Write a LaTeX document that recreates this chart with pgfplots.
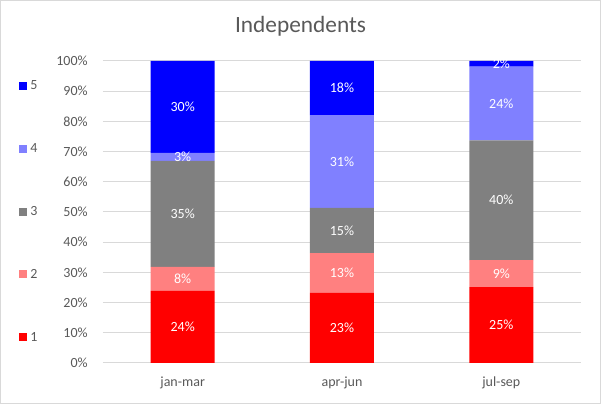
\documentclass[border=0pt]{standalone}
\usepackage{fontspec}
\setmainfont{Carlito}
\usepackage{pgfplots}
\usepackage{pgfplotstable}
\pgfplotsset{compat=1.18}

\definecolor{txt}{HTML}{595959}
\definecolor{lgray}{HTML}{D9D9D9}
\definecolor{c1}{HTML}{FF0000}
\definecolor{c2}{HTML}{FF8080}
\definecolor{c3}{HTML}{808080}
\definecolor{c4}{HTML}{8080FF}
\definecolor{c5}{HTML}{0000FF}

% shares per quarter (x: 0 jan-mar, 1 apr-jun, 2 jul-sep)
\pgfplotstableread{
x   s1   s2   s3   s4   s5
0   23.9 7.9  35.1 2.7  30.4
1   23.2 13.2 15.0 30.7 17.9
2   25.1 9.0  39.6 24.4 1.9
}\shares

% label positions (middle of each segment) and texts
\pgfplotstableread{
x   y      label
0   11.95  24\%
0   27.85  8\%
0   49.35  35\%
0   68.25  3\%
0   84.8   30\%
1   11.6   23\%
1   29.8   13\%
1   43.9   15\%
1   66.75  31\%
1   91.05  18\%
2   12.55  25\%
2   29.6   9\%
2   53.9   40\%
2   85.9   24\%
2   99.05  2\%
}\labels

\begin{document}
\begin{tikzpicture}
\draw[lgray, line width=0.75pt] (0.375pt,0.375pt) rectangle (450.375pt,302.625pt);
\node[anchor=base, text=txt, font=\fontsize{17.5}{20}\selectfont] at (225.4pt,278.25pt) {Independents};

\begin{axis}[
    at={(77.25pt,257.25pt)}, anchor=north west,
    scale only axis, width=358.5pt, height=226.5pt,
    ybar stacked, bar width=48pt,
    xmin=-0.5, xmax=2.5, ymin=0, ymax=100,
    xtick=data, xticklabels={jan-mar,apr-jun,jul-sep},
    ytick={0,10,...,100},
    yticklabels={0\%,10\%,20\%,30\%,40\%,50\%,60\%,70\%,80\%,90\%,100\%},
    major tick length=0pt,
    ticklabel style={font=\fontsize{10.5}{12}\selectfont, text=txt},
    yticklabel style={xshift=-8pt},
    xticklabel style={yshift=-7pt},
    ymajorgrids, major grid style={draw=lgray, line width=0.75pt},
    axis lines*=left, separate axis lines,
    y axis line style={draw=none},
    x axis line style={draw=lgray, line width=0.75pt, -},
    legend style={at={(axis description cs:-0.1757,0.942)}, anchor=north west,
        draw=none, fill=none, inner sep=0pt, outer sep=0pt, row sep=37.6pt,
        font=\fontsize{10.5}{12}\selectfont, text=txt,
        nodes={inner sep=1pt, text height=7.5pt, text depth=0pt}},
    legend cell align=left,
    reverse legend,
    /tikz/every odd column/.append style={column sep=1.5pt},
    legend image code/.code={\fill[#1] (0pt,-3.8pt) rectangle (6pt,2.2pt);},
]
\addplot[fill=c1, draw=none] table[x=x, y=s1] {\shares};
\addlegendentry{1}
\addplot[fill=c2, draw=none] table[x=x, y=s2] {\shares};
\addlegendentry{2}
\addplot[fill=c3, draw=none] table[x=x, y=s3] {\shares};
\addlegendentry{3}
\addplot[fill=c4, draw=none] table[x=x, y=s4] {\shares};
\addlegendentry{4}
\addplot[fill=c5, draw=none] table[x=x, y=s5] {\shares};
\addlegendentry{5}
\end{axis}

\begin{axis}[
    at={(77.25pt,257.25pt)}, anchor=north west,
    scale only axis, width=358.5pt, height=226.5pt,
    xmin=-0.5, xmax=2.5, ymin=0, ymax=100,
    hide axis,
]
\addplot[only marks, mark=none, nodes near coords, point meta=explicit symbolic,
    every node near coord/.append style={anchor=center, text=white,
        font=\fontsize{10.5}{12}\selectfont}]
    table[x=x, y=y, meta=label] {\labels};
\end{axis}
\end{tikzpicture}
\end{document}
